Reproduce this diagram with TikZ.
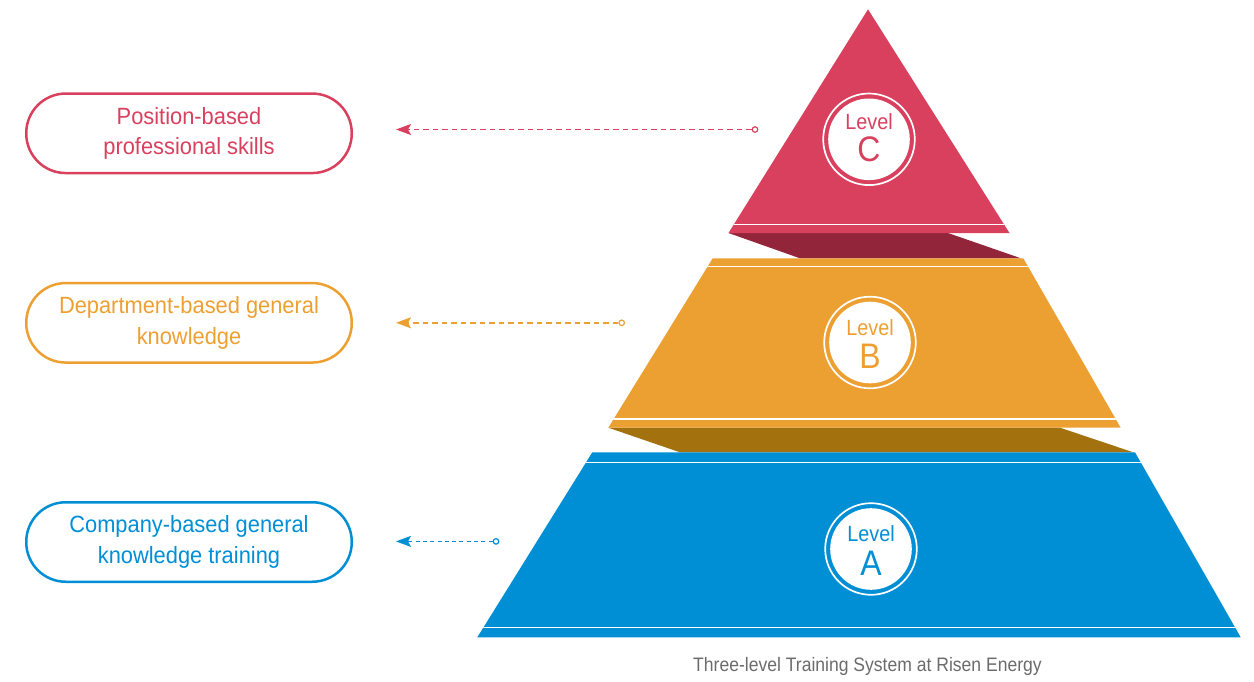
\documentclass[tikz,border=0pt]{standalone}
\usepackage{fontspec}
\setmainfont{Liberation Sans}[FakeStretch=0.9]
\newfontfamily\pillfont{Liberation Sans}[FakeStretch=0.93]
\usetikzlibrary{arrows.meta}
\definecolor{cred}{HTML}{D8405E}
\definecolor{credd}{HTML}{93253A}
\definecolor{corg}{HTML}{EDA032}
\definecolor{corgd}{HTML}{A3720E}
\definecolor{cblue}{HTML}{008ED5}
\definecolor{cgray}{HTML}{6B6B6B}
\tikzset{
  pill/.style={draw, rectangle, rounded corners=39.5pt, line width=2.5pt,
    minimum width=325.5pt, minimum height=79.5pt, align=center,
    font={\pillfont\fontsize{23.5}{30.5}\selectfont}},
  disc/.style={circle, fill=white, inner sep=0pt, minimum size=81.6pt},
  lvltxt/.style={font={\fontsize{22}{26}\selectfont}, inner sep=0pt},
  lvlletter/.style={font={\fontsize{35.5}{40}\selectfont}, inner sep=0pt},
  dotnode/.style={circle, draw, fill=white, line width=1.2pt, inner sep=0pt, minimum size=5.5pt},
  leader/.style={line width=1.4pt, dash pattern=on 5.5pt off 4pt,
    -{Stealth[length=15pt,width=11pt,inset=3pt]}},
  whiteline/.style={draw=white, line width=1.5pt}
}
\begin{document}
\begin{tikzpicture}[x=1pt,y=-1pt]
\useasboundingbox (0,0) rectangle (1254,681);

% shadows
\fill[credd] (728.5,233) -- (948,233) -- (1021,258.3) -- (800,258.3) -- cycle;
\fill[corgd] (608.3,427.7) -- (1060,427.7) -- (1133.3,452.3) -- (680,452.3) -- cycle;

% red triangle
\fill[cred] (868,9.3) -- (1009.5,233) -- (728.5,233) -- cycle;
\begin{scope}
  \clip (868,9.3) -- (1009.5,233) -- (728.5,233) -- cycle;
  \draw[whiteline] (600,224.5) -- (1254,224.5);
\end{scope}

% orange trapezoid
\fill[corg] (712.7,258.3) -- (1023.3,258.3) -- (1120.7,427.7) -- (608.3,427.7) -- cycle;
\begin{scope}
  \clip (712.7,258.3) -- (1023.3,258.3) -- (1120.7,427.7) -- (608.3,427.7) -- cycle;
  \draw[whiteline] (500,266.3) -- (1254,266.3);
  \draw[whiteline] (500,419) -- (1254,419);
\end{scope}

% blue trapezoid
\fill[cblue] (592.3,452.3) -- (1135,452.3) -- (1240.7,637.3) -- (477.3,637.3) -- cycle;
\begin{scope}
  \clip (592.3,452.3) -- (1135,452.3) -- (1240.7,637.3) -- (477.3,637.3) -- cycle;
  \draw[whiteline] (400,462.7) -- (1254,462.7);
  \draw[whiteline] (400,627.7) -- (1254,627.7);
\end{scope}

% level circles
\node[disc] (cR) at (869,139.3) {};
\draw[white, line width=1.7pt] (cR.center) circle[radius=45.8];
\node[lvltxt, text=cred] (lR) at (869,121.3) {Level};
\node[lvlletter, text=cred] (xR) at (869,149.2) {C};

\node[disc] (cO) at (870,342.5) {};
\draw[white, line width=1.7pt] (cO.center) circle[radius=45.8];
\node[lvltxt, text=corg] (lO) at (870,327.5) {Level};
\node[lvlletter, text=corg] (xO) at (870,356.5) {B};

\node[disc] (cB) at (871,549) {};
\draw[white, line width=1.7pt] (cB.center) circle[radius=45.8];
\node[lvltxt, text=cblue] (lB) at (871,533.3) {Level};
\node[lvlletter, text=cblue] (xB) at (871,563.5) {A};

% pills
\node[pill, draw=cred, text=cred] (pR) at (189,133.3) {Position-based\\professional skills};
\node[pill, draw=corg, text=corg] (pO) at (189,322.8) {Department-based general\\knowledge};
\node[pill, draw=cblue, text=cblue] (pB) at (189,542) {Company-based general\\knowledge training};

% leaders
\node[dotnode, draw=cred] (dR) at (755,129.5) {};
\coordinate (tR) at (396,129.5);
\draw[leader, cred] (dR) -- (tR);

\node[dotnode, draw=corg] (dO) at (621.7,322.8) {};
\coordinate (tO) at (396,322.8);
\draw[leader, corg] (dO) -- (tO);

\node[dotnode, draw=cblue] (dB) at (496,541.4) {};
\coordinate (tB) at (396,541.4);
\draw[leader, cblue, dash pattern=on 4pt off 3.3pt] (dB) -- (tB);

% caption
\node[anchor=base, text=cgray, font={\fontsize{19.5}{22}\selectfont}, inner sep=0pt] (cap) at (867.5,671.7) {Three-level Training System at Risen Energy};
\end{tikzpicture}
\end{document}
